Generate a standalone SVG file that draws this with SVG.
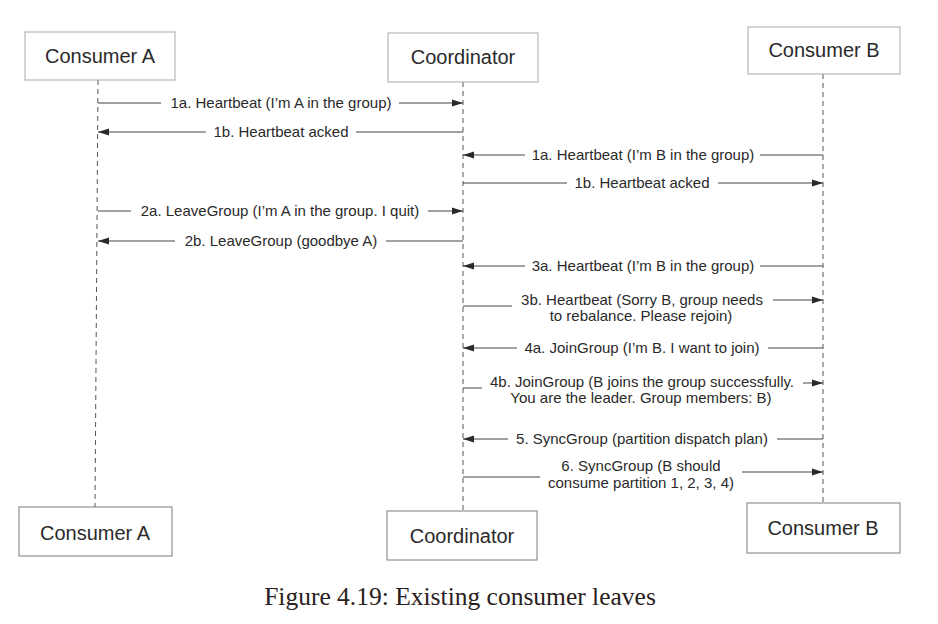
<svg xmlns="http://www.w3.org/2000/svg" width="938" height="624" viewBox="0 0 938 624">
<defs>
<marker id="ah" markerUnits="userSpaceOnUse" markerWidth="12" markerHeight="8" refX="11" refY="4" orient="auto">
<path d="M0,0.5 L11,4 L0,7.5 z" fill="#2a2a2a"/>
</marker>
<style>
.box{fill:#fff;stroke:#a8a8a8;stroke-width:1}
.box2{fill:#fff;stroke:#7a7a7a;stroke-width:1}
.nt{font-family:"Liberation Sans",Arial,sans-serif;font-size:20px;fill:#2a2a2a;text-anchor:middle}
.life{stroke:#555;stroke-width:1;stroke-dasharray:5 4;fill:none}
.msg{stroke:#444;stroke-width:1;fill:none}
.arr{stroke:#444;stroke-width:1;fill:none;marker-end:url(#ah)}
.lbl{font-family:"Liberation Sans",Arial,sans-serif;font-size:15px;fill:#2a2a2a;text-anchor:middle}
.cap{font-family:"Liberation Serif","Times New Roman",serif;font-size:25.5px;fill:#2a2020;text-anchor:middle}
</style>
</defs>
<rect width="938" height="624" fill="#fff"/>

<g id="lifelines">
<line class="life" x1="98" y1="80" x2="95" y2="507"/>
<line class="life" x1="463" y1="82" x2="463" y2="511"/>
<line class="life" x1="823" y1="74" x2="823" y2="503"/>
</g>

<g id="consumerA-top"><rect class="box" x="25" y="32" width="150" height="48"/><text class="nt" x="100" y="63">Consumer A</text></g>
<g id="coordinator-top"><rect class="box" x="388" y="33" width="150" height="49"/><text class="nt" x="463" y="64">Coordinator</text></g>
<g id="consumerB-top"><rect class="box" x="748" y="27" width="152" height="47"/><text class="nt" x="824" y="57">Consumer B</text></g>

<g id="consumerA-bottom"><rect class="box2" x="19" y="507" width="153" height="49"/><text class="nt" x="95" y="540">Consumer A</text></g>
<g id="coordinator-bottom"><rect class="box2" x="387" y="511" width="150" height="49"/><text class="nt" x="462" y="543">Coordinator</text></g>
<g id="consumerB-bottom"><rect class="box2" x="747" y="503" width="153" height="50"/><text class="nt" x="823" y="535">Consumer B</text></g>

<g id="connectors">
<line class="msg" x1="98" y1="103" x2="161" y2="103"/>
<line class="arr" x1="399" y1="103" x2="463" y2="103"/>
<line class="arr" x1="206" y1="132" x2="98" y2="132"/>
<line class="msg" x1="356" y1="132" x2="463" y2="132"/>
<line class="arr" x1="525" y1="155" x2="463" y2="155"/>
<line class="msg" x1="760" y1="155" x2="823" y2="155"/>
<line class="msg" x1="463" y1="183" x2="567" y2="183"/>
<line class="arr" x1="718" y1="183" x2="823" y2="183"/>
<line class="msg" x1="98" y1="211" x2="131" y2="211"/>
<line class="arr" x1="428" y1="211" x2="463" y2="211"/>
<line class="arr" x1="175" y1="241" x2="98" y2="241"/>
<line class="msg" x1="386" y1="241" x2="463" y2="241"/>
<line class="arr" x1="525" y1="266" x2="463" y2="266"/>
<line class="msg" x1="760" y1="266" x2="823" y2="266"/>
<line class="msg" x1="463" y1="306" x2="512" y2="306"/>
<line class="arr" x1="773" y1="300" x2="823" y2="300"/>
<line class="arr" x1="517" y1="348" x2="463" y2="348"/>
<line class="msg" x1="768" y1="348" x2="823" y2="348"/>
<line class="msg" x1="463" y1="388" x2="482" y2="388"/>
<line class="arr" x1="803" y1="383" x2="823" y2="383"/>
<line class="arr" x1="508" y1="439" x2="463" y2="439"/>
<line class="msg" x1="777" y1="439" x2="823" y2="439"/>
<line class="msg" x1="463" y1="477" x2="540" y2="477"/>
<line class="arr" x1="742" y1="472" x2="823" y2="472"/>
</g>

<g id="labels">
<text class="lbl" x="281" y="108">1a. Heartbeat (I’m A in the group)</text>
<text class="lbl" x="281" y="137">1b. Heartbeat acked</text>
<text class="lbl" x="643" y="160">1a. Heartbeat (I’m B in the group)</text>
<text class="lbl" x="642" y="188">1b. Heartbeat acked</text>
<text class="lbl" x="280" y="216">2a. LeaveGroup (I’m A in the group. I quit)</text>
<text class="lbl" x="281" y="246">2b. LeaveGroup (goodbye A)</text>
<text class="lbl" x="643" y="271">3a. Heartbeat (I’m B in the group)</text>
<text class="lbl" x="642" y="305">3b. Heartbeat (Sorry B, group needs</text>
<text class="lbl" x="641" y="321">to rebalance. Please rejoin)</text>
<text class="lbl" x="642" y="353">4a. JoinGroup (I’m B. I want to join)</text>
<text class="lbl" x="642" y="387">4b. JoinGroup (B joins the group successfully.</text>
<text class="lbl" x="641" y="403">You are the leader. Group members: B)</text>
<text class="lbl" x="642" y="444">5. SyncGroup (partition dispatch plan)</text>
<text class="lbl" x="641" y="471">6. SyncGroup (B should</text>
<text class="lbl" x="641" y="488">consume partition 1, 2, 3, 4)</text>
</g>

<text class="cap" x="460" y="605">Figure 4.19: Existing consumer leaves</text>
</svg>
